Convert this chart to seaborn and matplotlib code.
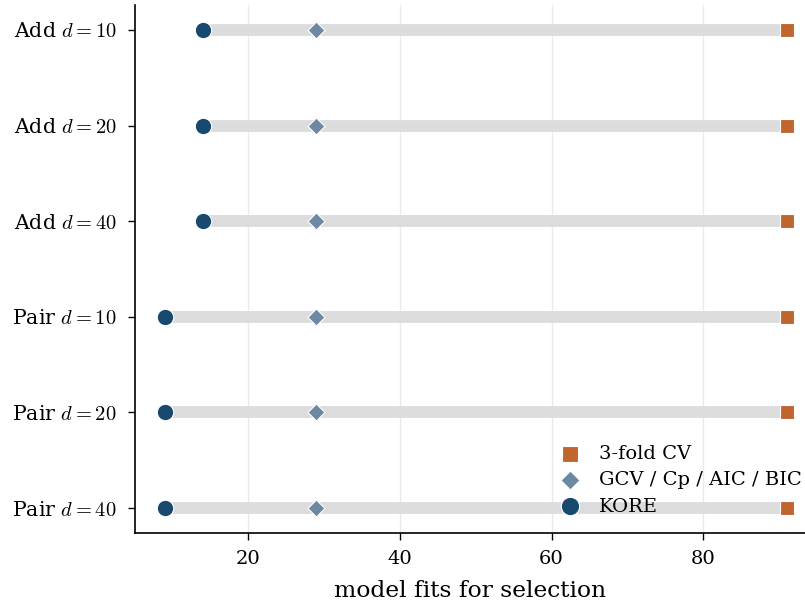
import matplotlib
matplotlib.use("Agg")
import matplotlib.pyplot as plt
import seaborn as sns
import pandas as pd
import numpy as np

categories = ["Add $d=10$", "Add $d=20$", "Add $d=40$",
              "Pair $d=10$", "Pair $d=20$", "Pair $d=40$"]
kore = [14, 14, 14, 9, 9, 9]
gcv = [29, 29, 29, 29, 29, 29]
cv3 = [91, 91, 91, 91, 91, 91]
xticks = [20, 40, 60, 80]

sns.set_theme(style="white")
plt.rcParams["font.family"] = ["DejaVu Serif"]
plt.rcParams["mathtext.fontset"] = "cm"
plt.rcParams["text.color"] = "black"

fig = plt.figure(figsize=(8.05, 6.10), dpi=100)
ax = fig.add_axes([135/805, 1 - 533/610, 1 - 135/805, (533 - 5)/610])

ypos = np.arange(len(categories))
ax.hlines(ypos, kore, cv3, color="#dcdcdc", lw=8.5, zorder=1)

df = pd.DataFrame({
    "cat": categories * 3,
    "val": cv3 + gcv + kore,
    "method": ["3-fold CV"] * 6 + ["GCV / Cp / AIC / BIC"] * 6 + ["KORE"] * 6,
})
df["y"] = np.tile(ypos, 3)

order = ["3-fold CV", "GCV / Cp / AIC / BIC", "KORE"]
palette = {"3-fold CV": "#c1652f", "GCV / Cp / AIC / BIC": "#6e88a3", "KORE": "#174a6e"}
markers = {"3-fold CV": "s", "GCV / Cp / AIC / BIC": "D", "KORE": "o"}
sizes = {"3-fold CV": 110, "GCV / Cp / AIC / BIC": 75, "KORE": 140}
for m in order:
    sub = df[df["method"] == m]
    sns.scatterplot(data=sub, x="val", y="y", color=palette[m], marker=markers[m],
                    s=sizes[m], edgecolor="white", linewidth=0.8, label=m, ax=ax, zorder=3)

ax.set_yticks(ypos)
ax.set_yticklabels(categories, fontsize=14.8)
ax.set_ylim(len(categories) - 1 + 0.26, -0.26)
ax.set_xlim(5.1, 93.4)
ax.set_xticks(xticks)
ax.set_xticklabels([str(t) for t in xticks], fontsize=14)
ax.set_xlabel("model fits for selection", fontsize=16.8, labelpad=9, color="black")
ax.set_ylabel("")
ax.grid(axis="x", color="#ebebeb", lw=1)
ax.set_axisbelow(True)
for s in ["top", "right"]:
    ax.spines[s].set_visible(False)
for s in ["left", "bottom"]:
    ax.spines[s].set_color("black")
    ax.spines[s].set_linewidth(1.2)
ax.tick_params(axis="both", which="both", length=5, width=1, color="black",
               left=True, bottom=True, labelcolor="black")
ax.tick_params(axis="y", pad=8)
ax.tick_params(axis="x", pad=7)

leg = ax.legend(loc="lower right", frameon=False, fontsize=14,
                bbox_to_anchor=(1.021, 0.0), handletextpad=0.5, labelspacing=0.42)
for t in leg.get_texts():
    t.set_color("black")
for h, m in zip(leg.legend_handles, order):
    try:
        h.set_sizes([sizes[m] * 1.25])
    except AttributeError:
        h.set_markersize(np.sqrt(sizes[m] * 1.25))

fig.savefig("out.png", dpi=100)
